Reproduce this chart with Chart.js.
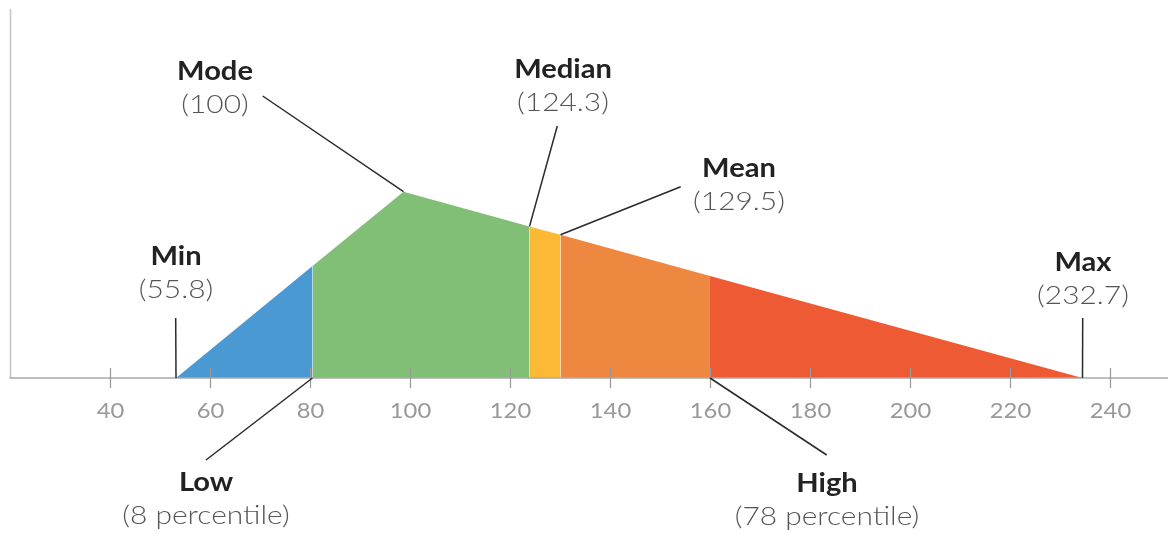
<!DOCTYPE html>
<html>
<head>
<meta charset="utf-8">
<script src="https://cdn.jsdelivr.net/npm/chart.js@4"></script>
<style>
html,body{margin:0;padding:0;background:#fff;}
#wrap{width:1168px;height:534px;}
</style>
</head>
<body>
<div id="wrap"><canvas id="c" width="1168" height="534"></canvas></div>
<script>
// Boundaries of the segments (x values as drawn) and heights (% of axis)
const segmentNames = ["Min-Low", "Low-Median", "Median-Mean", "Mean-High", "High-Max"];
const segmentColors = ["#4A99D3", "#80BF75", "#FBB935", "#EE8840", "#EE5A33"];
const boundaryX = [53.3, 80.6, 98.8, 124.0, 130.2, 160.1, 234.6];
const boundaryY = [0, 29.6, 49.3, 40.1, 37.9, 27.0, 0];
// which boundary indices belong to each segment
const segmentPoints = [[0,1],[1,2,3],[3,4],[4,5],[5,6]];
const xTicks = [40, 60, 80, 100, 120, 140, 160, 180, 200, 220, 240];

// annotations: label, value text, anchor boundary index, whether leader ends on the axis
const annoLabels = ["Mode", "Median", "Mean", "Min", "Max", "Low", "High"];
const annoValues = ["(100)", "(124.3)", "(129.5)", "(55.8)", "(232.7)", "(8 percentile)", "(78 percentile)"];
const annoAnchor = [2, 3, 4, 0, 6, 1, 5];
const annoOnAxis = [false, false, false, true, true, true, true];

const datasets = segmentPoints.map((idx, i) => ({
  label: segmentNames[i],
  data: idx.map(k => ({x: boundaryX[k], y: boundaryY[k]})),
  backgroundColor: segmentColors[i],
  borderColor: segmentColors[i],
  borderWidth: 0,
  pointRadius: 0,
  fill: 'origin',
  tension: 0
}));

// layout of annotation text in pixels (label center x, baseline y), leader start point
const annoLayout = [
  {tx: 215, ty: 80, lx: 262.7, ly: 96},
  {tx: 563, ty: 78, lx: 557.3, ly: 126},
  {tx: 739, ty: 177, lx: 680.7, ly: 186.7},
  {tx: 176, ty: 265, lx: 175.7, ly: 318},
  {tx: 1083, ty: 271, lx: 1082.7, ly: 318},
  {tx: 206, ty: 491, lx: 206, ly: 460},
  {tx: 827, ty: 492, lx: 826.7, ly: 455}
];

function stretchText(ctx, text, x, y, sx) {
  ctx.save();
  ctx.translate(x, y);
  ctx.scale(sx, 1);
  ctx.fillText(text, 0, 0);
  ctx.restore();
}

const decor = {
  id: 'decor',
  afterDatasetsDraw(chart) {
    const ctx = chart.ctx, xs = chart.scales.x, ys = chart.scales.y;
    const ca = chart.chartArea;
    const base = ys.getPixelForValue(0);
    ctx.save();
    // y axis line
    ctx.strokeStyle = '#c4c4c4';
    ctx.lineWidth = 1.5;
    ctx.beginPath();
    ctx.moveTo(ca.left + 1, 9);
    ctx.lineTo(ca.left + 1, base);
    ctx.stroke();
    // x axis line
    ctx.strokeStyle = '#a8a8a8';
    ctx.lineWidth = 1.5;
    ctx.beginPath();
    ctx.moveTo(ca.left, base);
    ctx.lineTo(chart.width, base);
    ctx.stroke();
    // ticks and tick labels
    ctx.strokeStyle = '#999';
    ctx.lineWidth = 1.2;
    ctx.fillStyle = '#999';
    ctx.font = '22px Lato';
    ctx.textAlign = 'center';
    ctx.textBaseline = 'alphabetic';
    xTicks.forEach(v => {
      const px = Math.round(xs.getPixelForValue(v)) + 0.5;
      ctx.beginPath();
      ctx.moveTo(px, base - 10);
      ctx.lineTo(px, base + 10);
      ctx.stroke();
      stretchText(ctx, String(v), px, 418, 1.08);
    });
    // leader lines
    ctx.strokeStyle = '#2a2a2a';
    ctx.lineWidth = 1.5;
    annoLayout.forEach((a, i) => {
      const k = annoAnchor[i];
      const px = xs.getPixelForValue(boundaryX[k]);
      const py = ys.getPixelForValue(annoOnAxis[i] ? 0 : boundaryY[k]);
      ctx.beginPath();
      ctx.moveTo(a.lx, a.ly);
      ctx.lineTo(px, py);
      ctx.stroke();
    });
    // texts
    annoLayout.forEach((a, i) => {
      ctx.fillStyle = '#222';
      ctx.font = 'bold 26px Lato';
      stretchText(ctx, annoLabels[i], a.tx, a.ty, 1.12);
      ctx.fillStyle = '#555';
      ctx.font = '300 26px Lato';
      stretchText(ctx, annoValues[i], a.tx, a.ty + 33, 1.15);
    });
    ctx.restore();
  }
};

new Chart(document.getElementById('c'), {
  type: 'line',
  data: { datasets },
  options: {
    responsive: false,
    animation: false,
    layout: { padding: { left: 9.5, right: 3.5, top: 0, bottom: 0 } },
    plugins: { legend: { display: false }, tooltip: { enabled: false } },
    elements: { line: { borderWidth: 0 } },
    scales: {
      x: {
        type: 'linear',
        min: 20, max: 251,
        afterFit(s) { s.height = 156; },
        afterBuildTicks(s) { s.ticks = xTicks.map(v => ({value: v})); },
        grid: { display: false, drawTicks: false },
        border: { display: false },
        ticks: { display: false }
      },
      y: {
        display: false,
        min: 0, max: 100
      }
    }
  },
  plugins: [decor]
});
</script>
</body>
</html>
